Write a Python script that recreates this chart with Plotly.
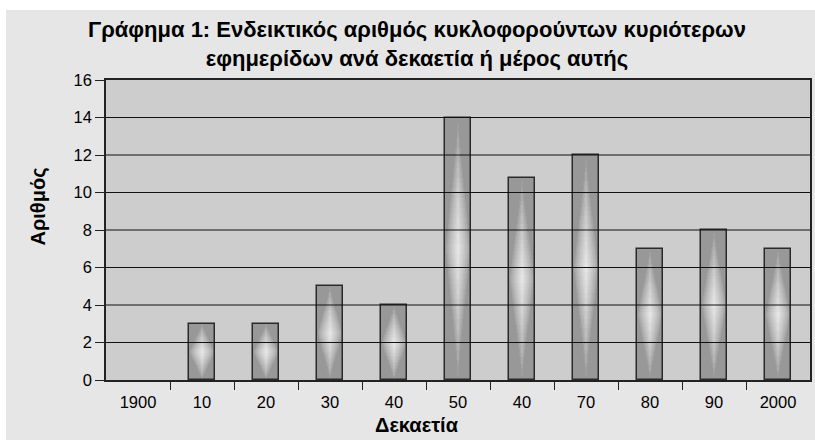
import plotly.graph_objects as go

# ---- data ----
decade_labels = ["1900", "10", "20", "30", "40", "50", "40", "70", "80", "90", "2000"]
counts = [0, 3, 3, 5, 4, 14, 10.8, 12, 7, 8, 7]
y_ticks = [0, 2, 4, 6, 8, 10, 12, 14, 16]

title_text = ("Γράφημα 1: Ενδεικτικός αριθμός κυκλοφορούντων κυριότερων<br>"
              "εφημερίδων ανά δεκαετία ή μέρος αυτής")
x_title = "Δεκαετία"
y_title = "Αριθμός"

FONT = "Liberation Sans, Arial, sans-serif"

# page is 815x443; the grey chart panel sits 6px from the left, 10px from the top
OFF_X, OFF_Y = 6, 10
W, H = 815 - OFF_X, 440 - OFF_Y
L, R, T, B = 106 - OFF_X, 5, 80 - OFF_Y, 440 - 380
PW, PH = W - L - R, H - T - B


def px_x(p):  # page pixel -> paper
    return (p - OFF_X - L) / PW


def px_y(p):
    return (H - B - (p - OFF_Y)) / PH


xpos = list(range(len(decade_labels)))
BAR_W = 0.42

fig = go.Figure()

# base fill of bars
fig.add_trace(go.Bar(
    x=xpos, y=counts, width=BAR_W,
    marker=dict(color="rgb(152,152,152)", line=dict(width=0)),
    hoverinfo="skip", showlegend=False,
))

# sheen: nested diamonds built from thin slices
N = 18          # brightness levels
M = 26          # half-height slices
A = 1.0         # contour exponent
c0, c1 = 152, 234
for k in range(1, N):
    r = 1 - k / N
    s_mid = r + 0.5 / N
    c = int(round(c0 + (c1 - c0) * max(0.0, 1 - s_mid) ** 0.75))
    xs, bases, hs, ws = [], [], [], []
    for i, v in enumerate(counts):
        if v <= 0:
            continue
        for j in range(2 * M):
            dyn = abs((j + 0.5) / M - 1)
            rem = r - dyn ** A
            if rem <= 0:
                continue
            wf = rem ** (1 / A)
            xs.append(xpos[i])
            bases.append(v * j / (2 * M))
            hs.append(v / (2 * M))
            ws.append(BAR_W * wf)
    fig.add_trace(go.Bar(
        x=xs, y=hs, base=bases, width=ws,
        marker=dict(color=f"rgb({c},{c},{c})", line=dict(width=0)),
        hoverinfo="skip", showlegend=False,
    ))

# outline
fig.add_trace(go.Bar(
    x=xpos, y=counts, width=BAR_W,
    marker=dict(color="rgba(0,0,0,0)",
                line=dict(color="#2a2a2a", width=[0 if v <= 0 else 1.5 for v in counts])),
    showlegend=False, hoverinfo="x+y",
))

shapes = []
for v in y_ticks[1:-1]:
    shapes.append(dict(type="line", xref="paper", yref="y", x0=0, x1=1, y0=v, y1=v,
                       line=dict(color="#111111", width=1), layer="above"))

fig.update_layout(
    width=W, height=H,
    margin=dict(l=L, r=R, t=T, b=B),
    paper_bgcolor="#e6e6e6",
    plot_bgcolor="#cdcdcd",
    barmode="overlay",
    bargap=0,
    shapes=shapes,
    font=dict(family=FONT, size=16, color="black"),
    xaxis=dict(
        range=[-0.5, len(decade_labels) - 0.5],
        tickmode="array", tickvals=xpos, ticktext=decade_labels,
        ticks="outside", ticklen=6, tickcolor="rgba(0,0,0,0)",
        showgrid=False, zeroline=False, automargin=False,
        showline=True, linecolor="#222222", linewidth=1.5, mirror=True,
        minor=dict(tickmode="array", tickvals=[i + 0.5 for i in xpos[:-1]],
                   ticks="outside", ticklen=8, tickcolor="#222222", tickwidth=1.2),
        tickfont=dict(family=FONT, size=16.5),
    ),
    yaxis=dict(
        range=[0, 16],
        tickmode="array", tickvals=y_ticks,
        ticks="outside", ticklen=9, tickcolor="#222222", tickwidth=1.2,
        showgrid=False, zeroline=False, automargin=False,
        showline=True, linecolor="#222222", linewidth=1.5, mirror=True,
        tickfont=dict(family=FONT, size=16.5),
    ),
    annotations=[
        dict(text="<b>" + title_text + "</b>", xref="paper", yref="paper",
             x=px_x(417), y=px_y(15), xanchor="center", yanchor="top",
             showarrow=False, font=dict(family=FONT, size=22)),
        dict(text="<b>" + x_title + "</b>", xref="paper", yref="paper",
             x=px_x(417), y=px_y(425), xanchor="center", yanchor="middle",
             showarrow=False, font=dict(family=FONT, size=20)),
        dict(text="<b>" + y_title + "</b>", xref="paper", yref="paper",
             x=px_x(37), y=px_y(206.5), textangle=-90,
             xanchor="center", yanchor="middle",
             showarrow=False, font=dict(family=FONT, size=20)),
    ],
)

post = ("document.body.style.margin='0';document.body.style.padding='0';"
        "document.body.style.background='white';"
        "var gd=document.getElementById('{plot_id}');"
        "gd.style.marginLeft='%dpx';gd.style.marginTop='%dpx';" % (OFF_X, OFF_Y))

fig.write_html("out.html", config={"displayModeBar": False}, post_script=post)
